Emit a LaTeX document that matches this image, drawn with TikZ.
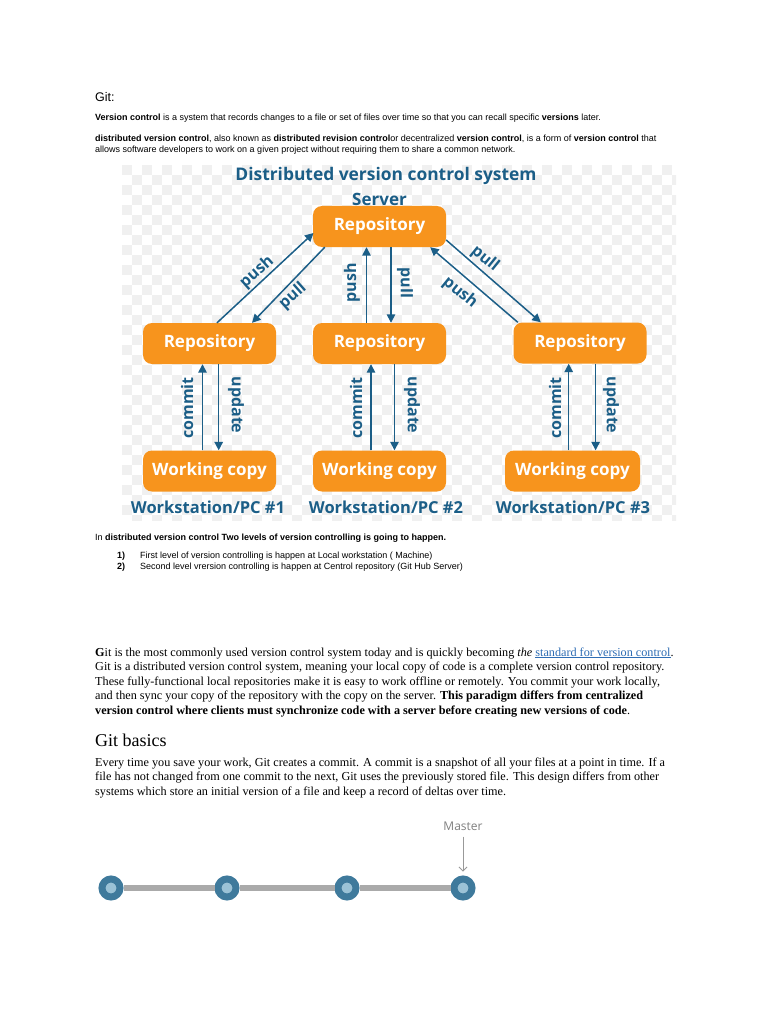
\documentclass[tikz,border=0pt]{standalone}
\usepackage{fontspec}
\setmainfont{Liberation Serif}
\setsansfont{Liberation Sans}
\newfontfamily\osans{Open Sans}
\usetikzlibrary{arrows.meta}
\definecolor{dorange}{HTML}{F7941D}
\definecolor{dblue}{HTML}{1B5E87}
\definecolor{tlblue}{HTML}{3F7A9C}
\definecolor{tllight}{HTML}{9BC2D6}
\definecolor{linkblue}{HTML}{2E6DB4}
\definecolor{chk}{HTML}{F0F0F0}
\definecolor{tlgray}{HTML}{AAAAAA}
\begin{document}
\begin{tikzpicture}[x=1pt,y=-1pt,
  box/.style={fill=dorange, rounded corners=9pt, minimum width=133pt, minimum height=41pt, text=white, font=\osans\bfseries\fontsize{17}{20}\selectfont, inner sep=0pt},
  flow/.style={draw=dblue, line width=1.5pt, -{Triangle[length=8.5pt,width=8.5pt]}},
  lbl/.style={text=dblue, font=\osans\bfseries\fontsize{16}{18}\selectfont, inner sep=0pt},
  pclbl/.style={text=dblue, font=\osans\bfseries\fontsize{16.5}{19}\selectfont, inner sep=0pt},
  bodysans/.style={anchor=base west, inner sep=0pt, font=\sffamily\fontsize{9}{11}\selectfont},
  bodyserif/.style={anchor=base west, inner sep=0pt, font=\rmfamily\fontsize{12.2}{14}\selectfont},
  commitdot/.style={circle, fill=tllight, draw=tlblue, line width=7pt, minimum size=18pt, inner sep=0pt}
]
\useasboundingbox (0,0) rectangle (768,1024);
\fill[white] (0,0) rectangle (768,1024);

% checkerboard background of the diagram
\begin{scope}
\clip (122,165) rectangle (676,520);
\foreach \j in {0,...,35}{
  \pgfmathtruncatemacro{\s}{mod(\j,2)}
  \pgfmathtruncatemacro{\t}{\s+2}
  \foreach \i in {\s,\t,...,55}{
    \fill[chk] (122+10*\i,165+10*\j) rectangle +(10,10);
  }
}
\end{scope}

% top texts
\node[anchor=base west, inner sep=0pt, font=\sffamily\fontsize{12.5}{14}\selectfont] (h1) at (95,101.5) {Git:};
\node[bodysans] (p1) at (95,121) {\textbf{Version control} is a system that records changes to a file or set of files over time so that you can recall specific \textbf{versions} later.};
\node[bodysans] (p2a) at (95,142) {\textbf{distributed version control}, also known as \textbf{distributed revision control}or decentralized \textbf{version control}, is a form of \textbf{version control} that};
\node[bodysans] (p2b) at (95,153) {allows software developers to work on a given project without requiring them to share a common network.};

% diagram
\node[lbl, font=\osans\bfseries\fontsize{17.4}{20}\selectfont] (title) at (386,176) {Distributed version control system};
\node[lbl, font=\osans\bfseries\fontsize{17}{20}\selectfont] (server) at (379.5,199) {Server};

\node[box] (top) at (379.5,226.5) {Repository};
\node[box] (r1) at (209.5,343.5) {Repository};
\node[box] (r2) at (379.5,343.5) {Repository};
\node[box] (r3) at (580,343) {Repository};
\node[box] (w1) at (209.5,471) {Working copy};
\node[box] (w2) at (379.5,471) {Working copy};
\node[box, minimum width=135pt] (w3) at (572.5,471) {Working copy};

% server <-> local repositories
\draw[flow] ([shift={(7.5,0)}]r1.north) -- ([shift={(0.7,6.5)}]top.west);
\draw[flow] ([shift={(12,0)}]top.south west) -- ([shift={(42.5,0)}]r1.north);
\draw[flow] ([shift={(-13,0)}]r2.north) -- ([shift={(-13,0)}]top.south);
\draw[flow] ([shift={(11.5,0)}]top.south) -- ([shift={(11.5,0)}]r2.north);
\draw[flow] ([shift={(4.5,0)}]r3.north west) -- ([shift={(-16,0)}]top.south east);
\draw[flow] ([shift={(0,13.5)}]top.east) -- ([shift={(27.5,0)}]r3.north west);

\node[lbl, rotate=41.6] (lpush) at (257,272) {push};
\node[lbl, rotate=41.6] (lpull) at (293,296) {pull};
\node[lbl, rotate=90] (mpush) at (352,283) {push};
\node[lbl, rotate=-90] (mpull) at (405,283) {pull};
\node[lbl, rotate=-39] (rpull) at (485,259) {pull};
\node[lbl, rotate=-39] (rpush) at (460,293) {push};

% local repositories <-> working copies
\draw[flow] ([shift={(-7,0)}]w1.north) -- ([shift={(-7,0)}]r1.south);
\draw[flow] ([shift={(9.2,0)}]r1.south) -- ([shift={(9.2,0)}]w1.north);
\draw[flow] ([shift={(-8.5,0)}]w2.north) -- ([shift={(-8.5,0)}]r2.south);
\draw[flow] ([shift={(15,0)}]r2.south) -- ([shift={(15,0)}]w2.north);
\draw[flow] ([shift={(-3.8,0)}]w3.north) -- ([shift={(-11.3,0)}]r3.south);
\draw[flow] ([shift={(15.6,0)}]r3.south) -- ([shift={(23.1,0)}]w3.north);

\node[lbl, rotate=90] (c1l) at (187,408) {commit};
\node[lbl, rotate=-90] (u1l) at (236,405) {update};
\node[lbl, rotate=90] (c2l) at (356,408) {commit};
\node[lbl, rotate=-90] (u2l) at (412,405) {update};
\node[lbl, rotate=90] (c3l) at (555,408) {commit};
\node[lbl, rotate=-90] (u3l) at (611,405) {update};

\node[pclbl] (pc1) at (208,507) {Workstation/PC \#1};
\node[pclbl] (pc2) at (386,507) {Workstation/PC \#2};
\node[pclbl] (pc3) at (573,507) {Workstation/PC \#3};

% levels text
\node[bodysans] (q) at (95,540) {In \textbf{distributed version control Two levels of version controlling is going to happen.}};
\node[bodysans] (n1) at (117,558) {\textbf{1)}};
\node[bodysans] (t1) at (140,558) {First level of version controlling is happen at Local workstation ( Machine)};
\node[bodysans] (n2) at (117,569) {\textbf{2)}};
\node[bodysans] (t2) at (140,569) {Second level vrersion controlling is happen at Centrol repository (Git Hub Server)};

% serif paragraph
\node[bodyserif] (s1) at (95,656) {\textbf{G}it is the most commonly used version control system today and is quickly becoming \textit{the} \textcolor{linkblue}{\underline{standard for version control}}.};
\node[bodyserif] (s2) at (95,670.5) {Git is a distributed version control system, meaning your local copy of code is a complete version control repository.};
\node[bodyserif] (s3) at (95,685) {These fully-functional local repositories make it is easy to work offline or remotely. You commit your work locally,};
\node[bodyserif] (s4) at (95,699.5) {and then sync your copy of the repository with the copy on the server. \textbf{This paradigm differs from centralized}};
\node[bodyserif] (s5) at (95,714) {\textbf{version control where clients must synchronize code with a server before creating new versions of code}.};

\node[anchor=base west, inner sep=0pt, font=\rmfamily\fontsize{18}{21}\selectfont] (gb) at (95,746) {Git basics};
\node[bodyserif] (b1) at (95,766) {Every time you save your work, Git creates a commit. A commit is a snapshot of all your files at a point in time. If a};
\node[bodyserif] (b2) at (95,780.5) {file has not changed from one commit to the next, Git uses the previously stored file. This design differs from other};
\node[bodyserif] (b3) at (95,795) {systems which store an initial version of a file and keep a record of deltas over time.};

% commit timeline
\node[commitdot] (c1) at (111,888) {};
\node[commitdot] (c2) at (227,888) {};
\node[commitdot] (c3) at (347,888) {};
\node[commitdot] (c4) at (463,888) {};
\draw[tlgray, line width=6pt] (c1.east) -- (c2.west);
\draw[tlgray, line width=6pt] (c2.east) -- (c3.west);
\draw[tlgray, line width=6pt] (c3.east) -- (c4.west);
\node[font=\osans\fontsize{12}{14}\selectfont, text=gray, inner sep=0pt] (master) at (463,826) {Master};
\draw[gray!80, line width=0.8pt, -{Straight Barb[length=4pt,width=8pt]}] ([shift={(0,6)}]master.south) -- ([shift={(0,-4)}]c4.north);
\end{tikzpicture}
\end{document}
